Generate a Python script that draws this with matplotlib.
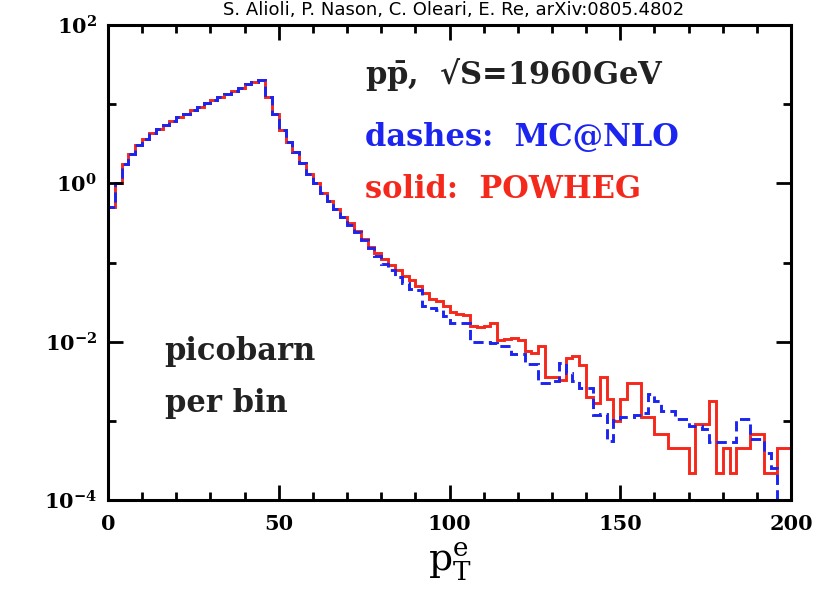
import numpy as np
import matplotlib
matplotlib.use("Agg")
import matplotlib.pyplot as plt
from matplotlib.ticker import FixedLocator, FuncFormatter, NullFormatter

# p_T^e distribution, 2 GeV bins from 0 to 200, log10(pb per bin)
bin_edges = np.arange(0, 202, 2)

# common part (both generators agree up to ~70 GeV)
log_common = [
    -0.30, 0.00, 0.25, 0.37, 0.48, 0.56, 0.63, 0.69, 0.74, 0.79,   # 0-20
    0.84, 0.88, 0.93, 0.97, 1.01, 1.05, 1.09, 1.13, 1.17, 1.21,    # 20-40
    1.25, 1.28, 1.30, 1.09, 0.88, 0.68, 0.52, 0.40, 0.26, 0.12,    # 40-60
    0.00, -0.12, -0.22, -0.32, -0.42,                              # 60-70
]

log_powheg_tail = [
    -0.50, -0.60, -0.70, -0.80, -0.88, -0.96, -1.03, -1.10, -1.17, -1.22,   # 70-90
    -1.30, -1.38, -1.46, -1.48, -1.55, -1.62, -1.65, -1.66, -1.80, -1.82,   # 90-110
    -1.80, -1.76, -1.98, -1.96, -1.95, -1.98, -2.12, -2.14, -2.05, -2.45,   # 110-130
    -2.45, -2.48, -2.20, -2.18, -2.30, -2.70, -2.78, -2.45, -2.72, -3.00,   # 130-150
    -2.72, -2.52, -2.52, -2.95, -2.95, -3.17, -3.17, -3.34, -3.34, -3.34,   # 150-170
    -3.66, -3.04, -3.04, -2.75, -3.66, -3.34, -3.66, -3.34, -3.34, -3.17,   # 170-190
    -3.17, -3.66, -3.66, -3.34, -3.34,                                      # 190-200
]

log_mcatnlo_tail = [
    -0.52, -0.62, -0.72, -0.82, -0.92, -1.02, -1.10, -1.18, -1.26, -1.33,   # 70-90
    -1.35, -1.55, -1.57, -1.60, -1.68, -1.77, -1.77, -1.77, -2.01, -2.01,   # 90-110
    -2.00, -2.02, -2.06, -2.06, -2.15, -2.15, -2.28, -2.28, -2.52, -2.52,   # 110-130
    -2.50, -2.27, -2.40, -2.50, -2.58, -2.58, -2.92, -2.91, -3.25, -2.99,   # 130-150
    -2.95, -2.95, -2.92, -2.90, -2.66, -2.75, -2.87, -2.87, -2.98, -2.98,   # 150-170
    -3.06, -3.06, -3.10, -3.27, -3.27, -3.27, -3.27, -2.98, -2.98, -3.23,   # 170-190
    -3.23, -3.40, -3.60, -4.00, -4.00,                                      # 190-200
]

powheg = 10.0 ** np.array(log_common + log_powheg_tail)
mcatnlo = 10.0 ** np.array(log_common + log_mcatnlo_tail)

x_ticks = [0, 50, 100, 150, 200]
y_ticks = [1e-4, 1e-2, 1e0, 1e2]

red = '#f5281c'
blue = '#1c24f0'

plt.rcParams['font.family'] = 'DejaVu Serif'
plt.rcParams['mathtext.fontset'] = 'dejavuserif'

fig = plt.figure(figsize=(8.17, 5.96), dpi=100)
ax = fig.add_axes([0.1322, 0.161, 0.836, 0.797])

ax.stairs(powheg, bin_edges, baseline=1e-6, color=red, lw=2.1)
ax.stairs(mcatnlo, bin_edges, baseline=1e-6, color=blue, lw=2.1,
          linestyle=(0, (3.5, 1.8)))

ax.set_yscale('log')
ax.set_xlim(0, 200)
ax.set_ylim(1e-4, 1e2)

ax.xaxis.set_major_locator(FixedLocator(x_ticks))
ax.xaxis.set_minor_locator(FixedLocator(np.arange(0, 201, 10)))
ax.yaxis.set_major_locator(FixedLocator(y_ticks))
ax.yaxis.set_minor_locator(FixedLocator([1e-3, 1e-1, 1e1]))
ax.yaxis.set_major_formatter(FuncFormatter(lambda v, p: r'$\mathbf{10^{%d}}$' % round(np.log10(v))))
ax.yaxis.set_minor_formatter(NullFormatter())
ax.xaxis.set_major_formatter(FuncFormatter(lambda v, p: '%d' % v))

ax.tick_params(which='both', direction='in', top=True, right=True, width=2)
ax.tick_params(which='major', length=11)
ax.tick_params(which='minor', length=6)
ax.tick_params(axis='x', labelsize=15, pad=10)
ax.tick_params(axis='y', labelsize=15, pad=8)
for lab in ax.get_xticklabels():
    lab.set_fontweight('bold')
for s in ax.spines.values():
    s.set_linewidth(2.2)

ax.set_xlabel(r'$\mathrm{p}_\mathrm{T}^\mathrm{e}$', fontsize=27, labelpad=5)

txt = dict(transform=ax.transAxes, fontsize=22, va='center', fontweight='bold')
ax.text(0.376, 0.895, r'p$\mathbf{\bar{p}}$,  √S=1960GeV', color='#222222', **txt)
ax.text(0.376, 0.764, 'dashes:  MC@NLO', color=blue, **txt)
ax.text(0.376, 0.653, 'solid:  POWHEG', color=red, **txt)
ax.text(0.083, 0.312, 'picobarn', color='#222222', **txt)
ax.text(0.083, 0.204, 'per bin', color='#222222', **txt)

fig.text(0.555, 0.999, 'S. Alioli, P. Nason, C. Oleari, E. Re, arXiv:0805.4802',
         family='DejaVu Sans', fontsize=13, ha='center', va='top')

fig.savefig('out.png', dpi=100)
